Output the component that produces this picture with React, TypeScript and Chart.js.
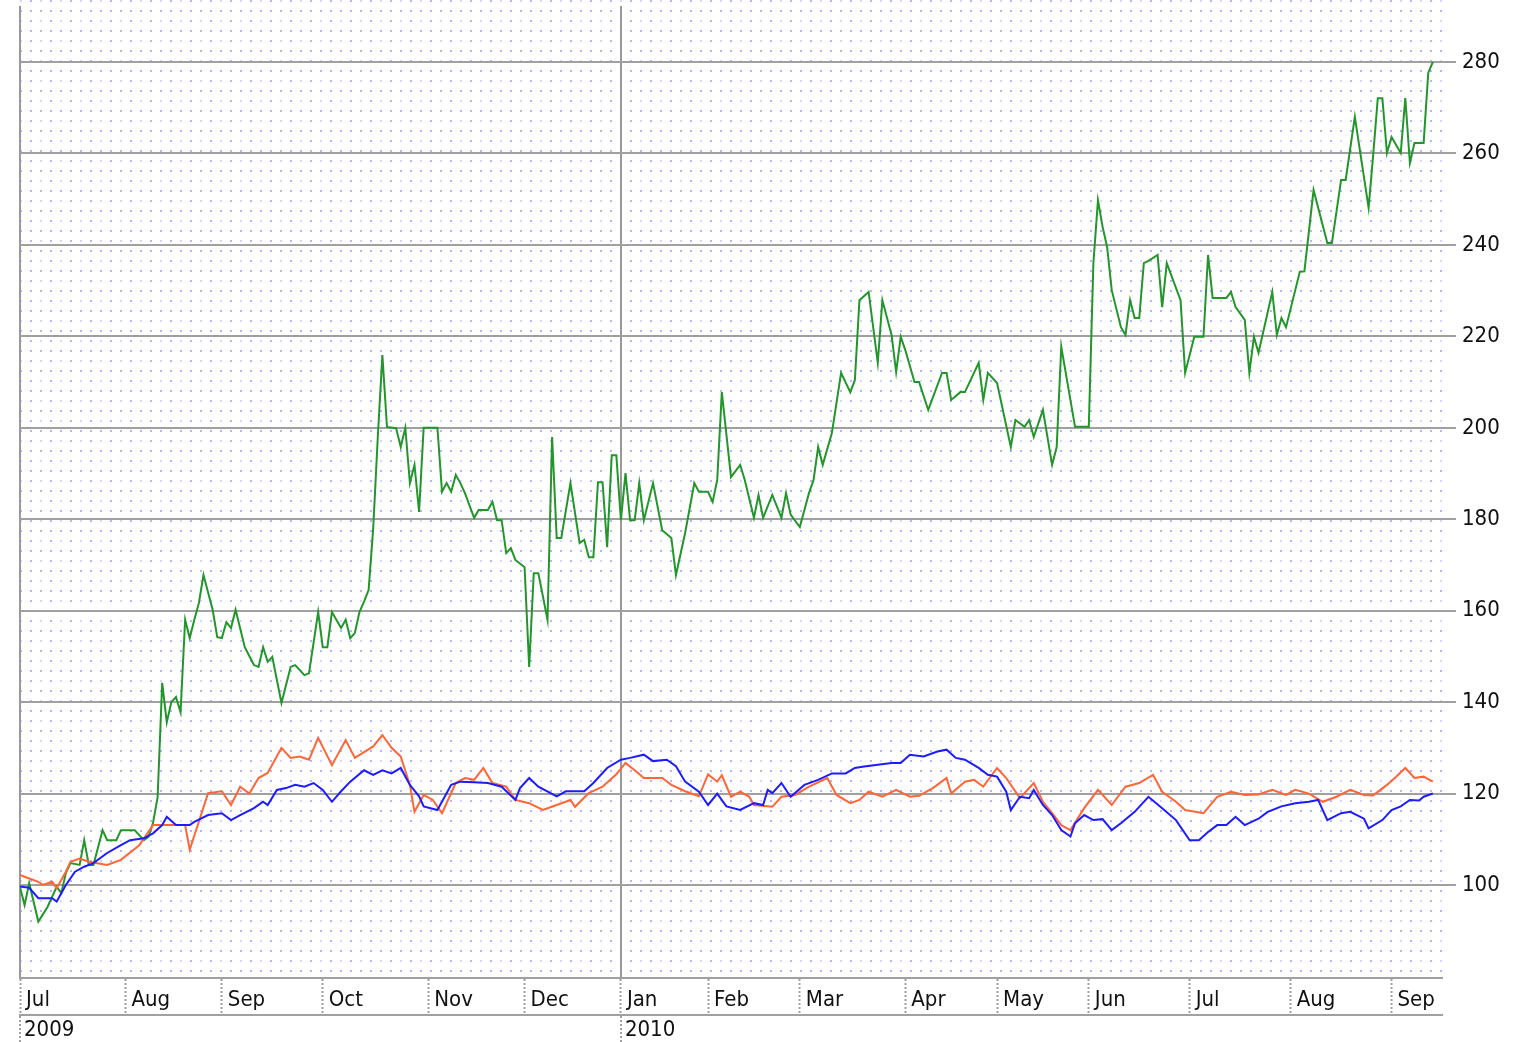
import React, { useEffect, useRef } from "react";
import { Chart, registerables } from "chart.js";

Chart.register(...registerables);

// ---- axis labels ----
const monthLabels = ["Jul", "Aug", "Sep", "Oct", "Nov", "Dec", "Jan", "Feb", "Mar", "Apr", "May", "Jun", "Jul", "Aug", "Sep"];
// trading-day index at which each month starts
const monthStartDays = [0, 23, 44, 66, 89, 110, 131, 150, 170, 193, 213, 233, 255, 277, 299];
const yearLabels = ["2009", "2010"];
const yearStartDays = [0, 131];
const lastDay = 310;
const yTicks = [100, 120, 140, 160, 180, 200, 220, 240, 260, 280];

// ---- green series (trading-day index, value) ----
const greenDays = [0, 1, 2, 4, 6, 8, 9, 10, 11, 13, 14, 15, 16, 18, 19, 21, 22, 25, 27, 28, 29, 30, 31, 32, 33, 34, 35, 36, 37, 38, 39, 40, 42, 43, 44, 45, 46, 47, 49, 51, 52, 53, 54, 55, 57, 59, 60, 62, 63, 65, 66, 67, 68, 70, 71, 72, 73, 74, 75, 76, 77, 78, 79, 80, 82, 83, 84, 85, 86, 87, 88, 91, 92, 93, 94, 95, 96, 97, 99, 100, 102, 103, 104, 105, 106, 107, 108, 110, 111, 112, 113, 115, 116, 117, 118, 120, 122, 123, 124, 125, 126, 127, 128, 129, 130, 131, 132, 133, 134, 135, 136, 138, 140, 142, 143, 145, 147, 148, 150, 151, 152, 153, 155, 157, 158, 160, 161, 162, 164, 166, 167, 168, 170, 172, 173, 174, 175, 177, 179, 181, 182, 183, 185, 187, 188, 190, 191, 192, 193, 195, 196, 198, 201, 202, 203, 205, 206, 209, 210, 211, 213, 216, 217, 219, 220, 221, 223, 225, 226, 227, 230, 233, 234, 235, 236, 237, 238, 240, 241, 242, 243, 244, 245, 246, 248, 249, 250, 253, 254, 256, 258, 259, 260, 263, 264, 265, 267, 268, 269, 270, 273, 274, 275, 276, 279, 280, 282, 285, 286, 288, 289, 291, 294, 295, 296, 297, 298, 299, 301, 302, 303, 304, 306, 307, 308];
const greenVals = [99.5, 95.6, 100.4, 92, 95.2, 99.6, 98.2, 102.6, 104.8, 104.4, 109.8, 104.4, 104.4, 112, 109.8, 109.8, 112, 112, 109.8, 110.5, 113.6, 119.2, 144.2, 135.6, 140, 141.1, 137.8, 158, 154, 158, 161.7, 167.8, 160.2, 154.2, 154, 157.5, 156.2, 160.2, 152, 148.1, 147.7, 152, 148.8, 149.9, 139.8, 147.7, 148.1, 145.9, 146.3, 159.7, 152, 152, 159.7, 156.2, 158, 154, 155.1, 159.7, 162, 164.5, 178, 198, 215.9, 200.2, 199.9, 195.8, 200, 187.9, 191.9, 181.6, 200, 200, 186, 187.9, 186, 189.7, 187.9, 185.7, 180.3, 182, 182, 183.8, 179.8, 179.8, 172.6, 173.7, 171.1, 169.5, 147.7, 168.2, 168.2, 158, 198, 175.9, 175.9, 187.9, 174.8, 175.5, 171.7, 171.7, 188.1, 188.1, 173.9, 194, 194, 179.8, 190.1, 179.8, 179.8, 187.9, 179.8, 187.9, 177.6, 175.9, 167.8, 177, 187.9, 186, 186, 183.8, 188.6, 207.8, 189.2, 191.9, 188.6, 180.3, 185.3, 180.3, 185.3, 180.3, 185.7, 181, 178.3, 185.7, 188.6, 195.8, 191.9, 198.9, 212, 207.8, 210.4, 227.9, 229.7, 214.2, 227.9, 220.3, 212.2, 219.9, 217, 210, 210, 203.9, 212, 212, 206.1, 207.8, 207.8, 214.2, 206.1, 212, 209.8, 195.8, 201.7, 200.2, 201.7, 198, 203.9, 191.9, 195.8, 217.7, 200.2, 200.2, 236, 249.8, 244, 239.5, 230.1, 222, 220.3, 227.9, 224, 224, 236, 236.5, 237.8, 226.4, 236, 227.9, 212, 219.9, 219.9, 237.8, 228.4, 228.4, 229.7, 226.4, 223.6, 212, 219.9, 216.4, 229.7, 220.3, 224, 222, 234.1, 234.2, 252, 240.4, 240.4, 254.2, 254.2, 268, 248.1, 259.7, 272.1, 272.1, 260.1, 263.6, 260.1, 272.1, 257.9, 262.3, 262.3, 277.6, 280];

// ---- orange series ----
const orangeDays = [0, 1, 4, 5, 7, 8, 10, 11, 13, 15, 19, 22, 26, 29, 32, 36, 37, 39, 41, 44, 46, 48, 50, 52, 54, 57, 59, 61, 63, 65, 68, 71, 73, 77, 79, 81, 83, 85, 86, 88, 90, 92, 95, 97, 99, 101, 103, 106, 108, 111, 114, 117, 120, 121, 124, 127, 130, 132, 134, 136, 140, 142, 145, 148, 150, 152, 153, 155, 157, 159, 160, 164, 166, 169, 172, 176, 178, 181, 183, 185, 188, 191, 194, 196, 199, 202, 203, 206, 208, 210, 213, 215, 218, 221, 223, 225, 227, 229, 232, 235, 238, 241, 244, 247, 249, 252, 254, 258, 261, 264, 267, 270, 273, 276, 278, 281, 284, 287, 290, 293, 295, 298, 300, 302, 304, 306, 308];
const orangeVals = [102.2, 101.8, 100.7, 100, 100.7, 99.3, 102.9, 105.1, 105.8, 105.1, 104.4, 105.5, 108.7, 113.1, 113.1, 113.1, 107.7, 113.9, 120.1, 120.5, 117.5, 121.5, 120, 123.4, 124.5, 130, 127.8, 128.1, 127.4, 132.2, 126.2, 131.7, 127.8, 130.3, 132.8, 130, 128.1, 121.9, 116, 119.7, 118.6, 115.7, 122.3, 123.4, 123, 125.6, 122.3, 121.5, 118.6, 117.9, 116.4, 117.5, 118.6, 117.1, 120.1, 121.5, 124.2, 126.7, 125.1, 123.4, 123.4, 121.9, 120.5, 119.4, 124.2, 122.6, 124, 119.3, 120.4, 119.3, 117.5, 117.1, 119.3, 119.7, 121.5, 123.4, 119.7, 117.9, 118.6, 120.4, 119.3, 120.8, 119.3, 119.5, 121.2, 123.4, 120, 122.6, 123, 121.5, 125.6, 123.4, 119, 122.3, 118.2, 115.7, 113.1, 112, 116.8, 120.8, 117.5, 121.5, 122.3, 124.1, 120.4, 118.2, 116.4, 115.7, 119.3, 120.4, 119.7, 119.8, 120.8, 119.7, 120.8, 120, 118.2, 119.3, 120.8, 119.7, 119.6, 121.9, 123.7, 125.6, 123.4, 123.7, 122.6];

// ---- blue series ----
const blueDays = [0, 2, 4, 7, 8, 10, 12, 14, 16, 19, 22, 24, 27, 29, 31, 32, 34, 37, 38, 41, 44, 46, 48, 51, 53, 54, 56, 58, 60, 62, 64, 66, 68, 70, 72, 75, 77, 79, 81, 83, 85, 87, 88, 91, 94, 96, 99, 102, 105, 108, 109, 111, 113, 117, 119, 123, 125, 128, 131, 133, 136, 138, 141, 143, 145, 148, 150, 152, 154, 157, 160, 162, 163, 164, 166, 168, 171, 174, 177, 180, 182, 184, 187, 190, 192, 194, 197, 200, 202, 204, 206, 209, 211, 213, 215, 216, 218, 220, 221, 223, 225, 227, 229, 230, 232, 234, 236, 238, 240, 243, 246, 249, 252, 255, 257, 259, 261, 263, 265, 267, 270, 272, 275, 278, 281, 283, 285, 288, 290, 293, 294, 297, 299, 301, 303, 305, 306, 308];
const blueVals = [99.7, 99.4, 97.1, 97.1, 96.4, 100, 102.9, 104, 104.8, 107, 108.7, 109.8, 110.2, 111.3, 113.1, 114.9, 113.1, 113.1, 113.8, 115.3, 115.7, 114.2, 115.3, 116.8, 118.2, 117.5, 120.8, 121.2, 121.9, 121.5, 122.3, 120.8, 118.2, 120.5, 122.6, 125.1, 124.1, 125.1, 124.4, 125.6, 121.9, 119.4, 117.2, 116.4, 121.9, 122.6, 122.5, 122.3, 121.5, 118.6, 121.2, 123.4, 121.5, 119.4, 120.5, 120.5, 122.3, 125.6, 127.4, 127.8, 128.5, 127.1, 127.4, 126, 122.6, 120.4, 117.5, 120, 117.2, 116.4, 117.9, 117.5, 120.8, 120.1, 122.3, 119.3, 121.9, 123, 124.4, 124.4, 125.6, 125.9, 126.3, 126.7, 126.7, 128.5, 128.1, 129.2, 129.6, 127.8, 127.4, 125.6, 124.1, 123.7, 120.4, 116.4, 119.3, 119, 120.8, 117.5, 115.3, 112, 110.6, 113.5, 115.3, 114.2, 114.4, 112, 113.5, 116, 119.3, 116.8, 114.2, 109.8, 109.8, 111.6, 113.1, 113.1, 114.9, 113.1, 114.5, 116, 117.2, 117.9, 118.2, 118.6, 114.2, 115.7, 116, 114.5, 112.4, 114.2, 116.4, 117.2, 118.6, 118.5, 119.3, 120];

const toXY = (days: number[], vals: number[]) => days.map((d, i) => ({ x: d, y: vals[i] }));

const FONT = { family: '"DejaVu Sans Condensed", "DejaVu Sans", sans-serif', size: 22 };
const GRID = "#a0a0a0";

function makePattern(ctx: CanvasRenderingContext2D) {
  const c = document.createElement("canvas");
  c.width = 20;
  c.height = 20;
  const p = c.getContext("2d")!;
  p.fillStyle = "rgba(120,120,255,0.55)";
  p.fillRect(10, 0, 2, 2);
  p.fillRect(0, 10, 2, 2);
  p.fillRect(10, 10, 2, 2);
  p.fillStyle = "rgba(120,120,255,0.3)";
  p.fillRect(0, 0, 2, 2);
  return ctx.createPattern(c, "repeat")!;
}

export default function App() {
  const ref = useRef<HTMLCanvasElement>(null);

  useEffect(() => {
    document.body.style.margin = "0";
    const canvas = ref.current!;
    const pattern = makePattern(canvas.getContext("2d")!);

    const bgPlugin = {
      id: "dottedBackground",
      beforeDraw(chart: any) {
        const { ctx, chartArea: a } = chart;
        ctx.save();
        ctx.fillStyle = "#ffffff";
        ctx.fillRect(0, 0, chart.width, chart.height);
        ctx.fillStyle = pattern;
        ctx.fillRect(a.left, 0, a.right - a.left, a.bottom);
        ctx.restore();
      },
    };

    const chart = new Chart(canvas, {
      type: "line",
      data: {
        datasets: [
          { label: "Blue", data: toXY(blueDays, blueVals), borderColor: "#1c1cff", borderWidth: 2, pointRadius: 0, tension: 0, xAxisID: "x", yAxisID: "y" },
          { label: "Orange", data: toXY(orangeDays, orangeVals), borderColor: "#ff6535", borderWidth: 2, pointRadius: 0, tension: 0, xAxisID: "x", yAxisID: "y" },
          { label: "Green", data: toXY(greenDays, greenVals), borderColor: "#22962a", borderWidth: 2, pointRadius: 0, tension: 0, xAxisID: "x", yAxisID: "y" },
        ],
      },
      options: {
        responsive: false,
        animation: false,
        layout: { padding: { left: 20, top: 6, right: 0, bottom: 0 } },
        plugins: { legend: { display: false }, tooltip: { enabled: false } },
        scales: {
          x: {
            type: "linear",
            position: "bottom",
            weight: 0,
            min: 0,
            max: lastDay,
            afterBuildTicks: (s: any) => {
              s.ticks = monthStartDays.map((v) => ({ value: v }));
            },
            afterFit: (s: any) => {
              s.height = 37;
              s.paddingLeft = 0;
              s.paddingRight = 0;
            },
            grid: { drawOnChartArea: false, drawTicks: true, tickLength: 37, tickColor: GRID, tickWidth: 2, tickBorderDash: [2, 2] },
            border: { display: true, color: GRID, width: 2 },
            ticks: {
              autoSkip: false,
              maxRotation: 0,
              minRotation: 0,
              align: "start",
              labelOffset: 6,
              padding: -28,
              color: "#111",
              font: FONT,
              callback: (_v: any, i: number) => monthLabels[i],
            },
          },
          x2: {
            type: "linear",
            position: "bottom",
            weight: 1,
            min: 0,
            max: lastDay,
            afterBuildTicks: (s: any) => {
              s.ticks = yearStartDays.map((v) => ({ value: v }));
            },
            afterFit: (s: any) => {
              s.height = 27;
              s.paddingLeft = 0;
              s.paddingRight = 0;
            },
            grid: { drawOnChartArea: true, color: "#999999", lineWidth: 2, drawTicks: true, tickLength: 27, tickColor: GRID, tickWidth: 2, tickBorderDash: [2, 2] },
            border: { display: true, color: GRID, width: 2 },
            ticks: {
              autoSkip: false,
              maxRotation: 0,
              minRotation: 0,
              align: "start",
              labelOffset: 4,
              padding: -25,
              color: "#111",
              font: FONT,
              callback: (_v: any, i: number) => yearLabels[i],
            },
          },
          y: {
            type: "linear",
            position: "right",
            min: 79.66,
            max: 292.25,
            afterBuildTicks: (s: any) => {
              s.ticks = yTicks.map((v) => ({ value: v }));
            },
            afterFit: (s: any) => {
              s.width = 73;
              s.paddingTop = 0;
              s.paddingBottom = 0;
            },
            grid: { color: GRID, lineWidth: 2, drawTicks: true, tickLength: 14, tickColor: GRID },
            border: { display: false },
            ticks: { padding: 6, color: "#111", font: FONT, callback: (v: any) => String(v) },
          },
        },
      },
      plugins: [bgPlugin],
    } as any);

    return () => chart.destroy();
  }, []);

  return (
    <div style={{ width: 1515, height: 1042 }}>
      <canvas ref={ref} width={1515} height={1042} style={{ display: "block" }} />
    </div>
  );
}
